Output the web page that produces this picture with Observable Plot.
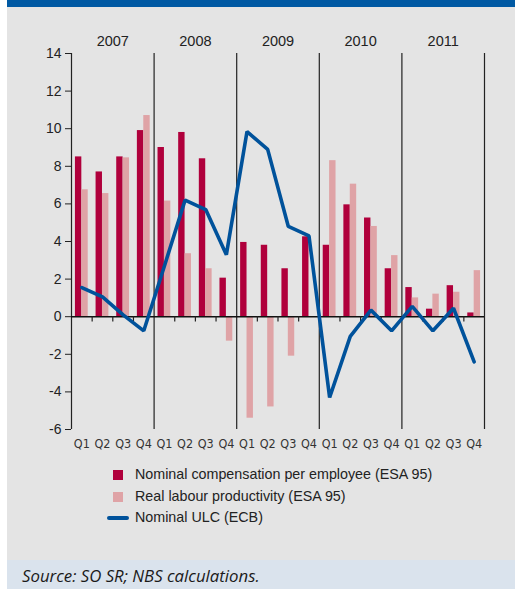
<!DOCTYPE html>
<html>
<head>
<meta charset="utf-8">
<script src="https://cdn.jsdelivr.net/npm/d3@7"></script>
<script src="https://cdn.jsdelivr.net/npm/@observablehq/plot@0.6"></script>
<style>
  html, body { margin: 0; padding: 0; background: #ffffff; }
  #page { position: relative; width: 515px; height: 589px; overflow: hidden; font-family: "Liberation Sans", Arial, sans-serif; }
  #banner { position: absolute; left: 7px; top: 0; width: 508px; height: 7px; background: #0059a3; }
  #panel { position: absolute; left: 7px; top: 7px; width: 508px; height: 553px; background: #e4e4e4; }
  #sourcebox { position: absolute; left: 7px; top: 560px; width: 508px; height: 29px; background: #dae3ed; }
  #source { position: absolute; left: 22px; top: 566px; font-family: "Open Sans", sans-serif; font-style: italic; font-size: 16.8px; line-height: 20px; color: #1a1a1a; white-space: nowrap; }
  #chart { position: absolute; left: 0; top: 7px; }
  .leg { position: absolute; left: 107px; height: 20px; font-size: 14.3px; color: #222; white-space: nowrap; }
  .sw { position: absolute; left: 6px; top: 5px; width: 10px; height: 10px; }
  .ln { position: absolute; left: 0; top: 8px; width: 22px; height: 3.5px; border-radius: 2px; }
  .lt { position: absolute; left: 28px; top: 1px; }
</style>
</head>
<body>
<div id="page">
  <div id="banner"></div>
  <div id="panel"></div>
  <div id="sourcebox"></div>
  <div id="source">Source: SO SR; NBS calculations.</div>
  <div id="chart"></div>
  <div id="legend"></div>
</div>
<script>
const years = ["2007", "2008", "2009", "2010", "2011"];
const quarters = ["Q1", "Q2", "Q3", "Q4"];
const yTicks = [-6, -4, -2, 0, 2, 4, 6, 8, 10, 12, 14];

// Nominal compensation per employee (ESA 95)
const compensation = [8.5, 7.7, 8.5, 9.9, 9.0, 9.8, 8.4, 2.05, 3.95, 3.8, 2.55, 4.25, 3.8, 5.95, 5.25, 2.55, 1.55, 0.4, 1.65, 0.2];
// Real labour productivity (ESA 95)
const productivity = [6.75, 6.55, 8.45, 10.7, 6.15, 3.35, 2.55, -1.3, -5.4, -4.8, -2.1, null, 8.3, 7.05, 4.8, 3.25, 1.0, 1.2, 1.3, 2.45];
// Nominal ULC (ECB)
const ulc = [1.55, 1.05, 0.1, -0.75, 2.7, 6.2, 5.7, 3.3, 9.85, 8.9, 4.8, 4.3, -4.3, -1.05, 0.35, -0.75, 0.55, -0.75, 0.45, -2.4];

const seriesNames = ["Nominal compensation per employee (ESA 95)", "Real labour productivity (ESA 95)", "Nominal ULC (ECB)"];
const colors = ["#b0003c", "#dfa3a6", "#00529b"];

const rows = compensation.map((c, i) => ({
  i,
  year: years[Math.floor(i / 4)],
  q: quarters[i % 4],
  comp: c,
  prod: productivity[i],
  ulc: ulc[i]
}));
const yearRows = years.map((y, k) => ({year: y, k}));
const boundaries = d3.range(1, 20).filter(i => i % 4 !== 0);

const chart = Plot.plot({
  width: 515,
  height: 452,
  marginLeft: 71,
  marginRight: 31,
  marginTop: 46,
  marginBottom: 30,
  style: { background: "transparent", fontFamily: "Liberation Sans, Arial, sans-serif", fontSize: "13px", color: "#222" },
  x: { domain: [0, 20], axis: null },
  y: { domain: [-6, 14], axis: null },
  marks: [
    Plot.rectY(rows, { x1: d => d.i + 0.19, x2: d => d.i + 0.5, y: "comp", fill: colors[0] }),
    Plot.rectY(rows.filter(d => d.prod != null), { x1: d => d.i + 0.5, x2: d => d.i + 0.81, y: "prod", fill: colors[1] }),
    Plot.axisY({ ticks: yTicks, tickSize: 6, tickPadding: 4, fontSize: 14, stroke: "#222", fill: "#222", tickFormat: d => (d < 0 ? "-" + Math.abs(d) : String(d)), label: null }),
    Plot.ruleX([0, 4, 8, 12, 16, 20], { x: d => d, y1: -6, y2: 14, stroke: "#222", strokeWidth: 1.2 }),
    Plot.ruleY([0], { x1: 0, x2: 20, stroke: "#111", strokeWidth: 1.5 }),
    Plot.ruleX(boundaries, { x: d => d, y1: 0, y2: -0.28, stroke: "#222", strokeWidth: 1.2 }),
    Plot.line(rows, { x: d => d.i + 0.5, y: "ulc", stroke: colors[2], strokeWidth: 3.6, strokeLinejoin: "miter", strokeLinecap: "round" }),
    Plot.text(yearRows, { x: d => d.k * 4 + 2, y: 14, text: "year", dy: -12, fontSize: 14.5, fill: "#222" }),
    Plot.text(rows, { x: d => d.i + 0.5, y: -6, text: "q", dy: 14, fontSize: 12.5, fill: "#333", fontFamily: "Liberation Sans Narrow, DejaVu Sans Condensed, sans-serif" })
  ]
});
document.getElementById("chart").appendChild(chart);

const legend = document.getElementById("legend");
const legTops = [465, 487, 508];
seriesNames.forEach((name, k) => {
  const row = document.createElement("div");
  row.className = "leg";
  row.style.top = legTops[k] + "px";
  const sw = document.createElement("div");
  sw.className = k < 2 ? "sw" : "ln";
  sw.style.background = colors[k];
  const t = document.createElement("span");
  t.className = "lt";
  t.textContent = name;
  row.appendChild(sw);
  row.appendChild(t);
  legend.appendChild(row);
});
</script>
</body>
</html>
